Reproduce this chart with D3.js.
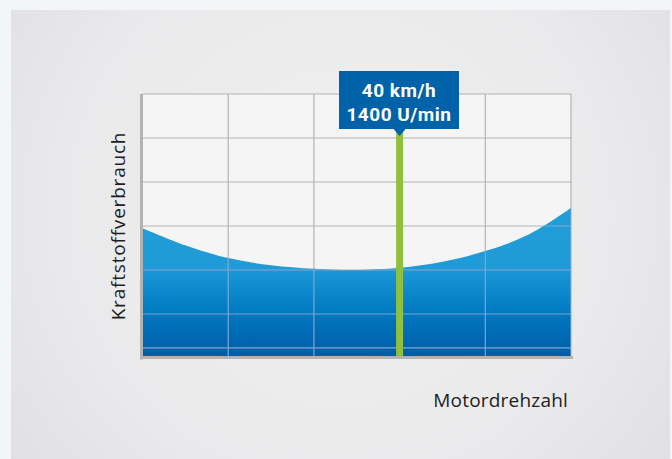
<!DOCTYPE html>
<html><head><meta charset="utf-8">
<script src="https://cdn.jsdelivr.net/npm/d3@7"></script>
<style>html,body{margin:0;padding:0;background:#f2f6f7;}svg{display:block;}</style>
</head><body>
<svg id="c" width="672" height="459"></svg>
<script>
// Data (grid units)
const rpmSteps = [0, 0.5, 1, 1.5, 2, 2.5, 3, 3.5, 4, 4.5, 5];
const consumption = [2.95, 2.56, 2.27, 2.11, 2.03, 2.0, 2.05, 2.19, 2.43, 2.8, 3.41];
const xGridValues = [0, 1, 2, 3, 4, 5];
const yGridValues = [1, 2, 3, 4, 5, 6, 0.23];
const markerX = 3;
const markerLines = ["40 km/h", "1400 U/min"];
const xTitle = "Motordrehzahl";
const yTitle = "Kraftstoffverbrauch";

const svg = d3.select("#c");
const defs = svg.append("defs");
const W = 672, H = 459;
const L = 142.5, R = 571, T = 94, B = 357;

const x = d3.scaleLinear().domain([0, 5]).range([L, R]);
const y = d3.scaleLinear().domain([0, 6]).range([358, 94]);

// panel background
const rg = defs.append("radialGradient").attr("id", "bg").attr("gradientUnits", "userSpaceOnUse")
  .attr("cx", 340).attr("cy", 210).attr("r", 450);
rg.append("stop").attr("offset", "0").attr("stop-color", "#f1f1f0");
rg.append("stop").attr("offset", "0.6").attr("stop-color", "#eae9eb");
rg.append("stop").attr("offset", "1").attr("stop-color", "#dfdde0");
svg.append("rect").attr("x", 11).attr("y", 10).attr("width", 659).attr("height", H - 10).attr("fill", "url(#bg)");

// plot area
svg.append("rect").attr("x", L).attr("y", T).attr("width", R - L).attr("height", B - T).attr("fill", "#f6f5f5");

// area gradient
const lg = defs.append("linearGradient").attr("id", "ag").attr("gradientUnits", "userSpaceOnUse")
  .attr("x1", 0).attr("x2", 0).attr("y1", 200).attr("y2", B);
const sOff = (v) => (v - 200) / (B - 200);
lg.append("stop").attr("offset", 0).attr("stop-color", "#219dd8");
lg.append("stop").attr("offset", sOff(y(2))).attr("stop-color", "#209bd7");
lg.append("stop").attr("offset", sOff(y(2) + 1)).attr("stop-color", "#1a97d6");
lg.append("stop").attr("offset", sOff(y(1))).attr("stop-color", "#0078c0");
lg.append("stop").attr("offset", 1).attr("stop-color", "#005ca6");

const area = d3.area().x((d, i) => x(rpmSteps[i])).y0(B).y1(d => y(d)).curve(d3.curveCatmullRom);

// grid under (grey)
const grid = svg.append("g");
function drawGrid(g, color) {
  g.selectAll(".v").data(xGridValues.slice(1, -1)).join("line").attr("class", "v")
    .attr("x1", d => x(d)).attr("x2", d => x(d)).attr("y1", T).attr("y2", 358)
    .attr("stroke", color).attr("stroke-width", 1.2);
  g.selectAll(".h").data(yGridValues).join("line").attr("class", "h")
    .attr("x1", L).attr("x2", R).attr("y1", d => y(d)).attr("y2", d => y(d))
    .attr("stroke", color).attr("stroke-width", 1.2);
  g.append("line").attr("x1", R).attr("x2", R).attr("y1", T).attr("y2", 358)
    .attr("stroke", color).attr("stroke-width", 1.2);
}
drawGrid(grid, "#b4b4b4");

// area
svg.append("path").datum(consumption).attr("d", area).attr("fill", "url(#ag)");
defs.append("clipPath").attr("id", "ac").append("path").datum(consumption).attr("d", area);
const grid2 = svg.append("g").attr("clip-path", "url(#ac)");
drawGrid(grid2, "#80a6d2");

// axes
svg.append("line").attr("x1", L - 1).attr("x2", L - 1).attr("y1", T).attr("y2", 359.5)
  .attr("stroke", "#b3b3b3").attr("stroke-width", 3);
svg.append("line").attr("x1", L - 2.5).attr("x2", R + 2).attr("y1", 357.5).attr("y2", 357.5)
  .attr("stroke", "#b3b3b3").attr("stroke-width", 3);

// marker line
svg.append("line").attr("x1", x(markerX)).attr("x2", x(markerX)).attr("y1", 130).attr("y2", 356)
  .attr("stroke", "#91c13c").attr("stroke-width", 7);

// label box
const mx = x(markerX);
const bx0 = 339, bx1 = 459, by0 = 71, by1 = 129;
svg.append("path")
  .attr("d", `M${bx0},${by0}H${bx1}V${by1}H${mx + 6}L${mx},${by1 + 7}L${mx - 6},${by1}H${bx0}Z`)
  .attr("fill", "#0063a9");
svg.selectAll(".ml").data(markerLines).join("text").attr("class", "ml")
  .attr("x", (bx0 + bx1) / 2).attr("y", (d, i) => 97 + i * 24)
  .attr("text-anchor", "middle").attr("fill", "#fff")
  .attr("font-family", "Roboto, sans-serif").attr("font-weight", "bold").attr("font-size", 19)
  .attr("letter-spacing", 0.5)
  .text(d => d);

// titles
svg.append("text").attr("x", 568).attr("y", 407).attr("text-anchor", "end")
  .attr("font-family", "'Open Sans', sans-serif").attr("font-size", 19).attr("fill", "#1e1e1e")
  .attr("letter-spacing", 0.2)
  .text(xTitle);
svg.append("text").attr("transform", "translate(125,226) rotate(-90)").attr("text-anchor", "middle")
  .attr("font-family", "'Open Sans', sans-serif").attr("font-size", 19).attr("fill", "#1e1e1e")
  .attr("letter-spacing", 0.8)
  .text(yTitle);
</script>
</body></html>
